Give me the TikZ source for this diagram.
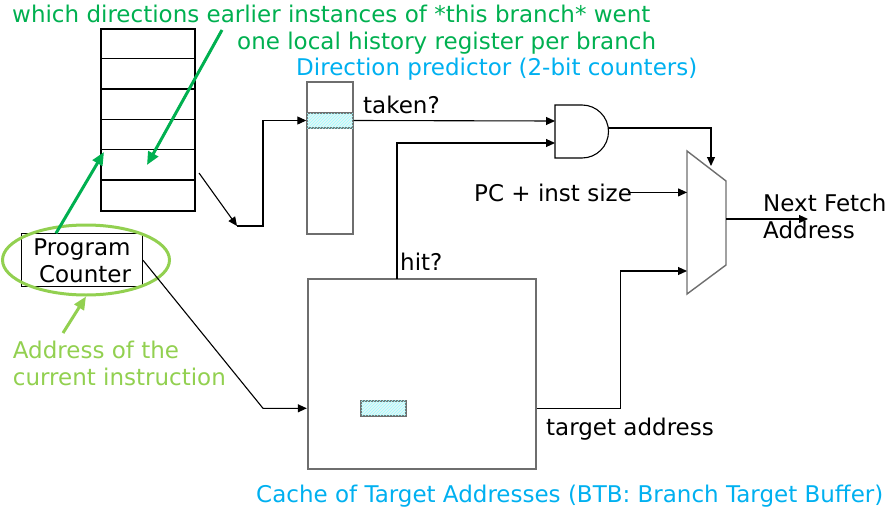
\documentclass[tikz,border=0pt]{standalone}
\usepackage{fontspec}
\setmainfont{DejaVu Sans}
\usetikzlibrary{arrows.meta, patterns, shapes.geometric}

\definecolor{darkgreen}{HTML}{00B050}
\definecolor{lightgreen}{HTML}{92D050}
\definecolor{skyblue}{HTML}{00B0F0}
\definecolor{boxgray}{HTML}{6E6E6E}
\definecolor{hatchcyan}{HTML}{E6F5F7}

\begin{document}
\begin{tikzpicture}[x = 1pt, y = -1pt,
	every node/.style = {font = \fontsize{23}{27}\selectfont, inner sep = 0pt},
	block/.style = {draw = boxgray, line width = 1.4pt},
	cell/.style = {block, fill = hatchcyan,
		postaction = {pattern = north east lines, pattern color = cyan!40}},
	wire/.style = {line width = 1.1pt, -{Triangle[length = 9pt, width = 8pt]}},
	note/.style = {line width = 3pt, -{Triangle[length = 13pt, width = 11pt]}}]
	
	\useasboundingbox (0, 0) rectangle (885, 511);
	
	% Local history table
	
	\node [draw, line width = 1.3pt, minimum width = 94pt, minimum height = 182pt] (hist) at (148, 120) {};
	\foreach \i in {1, ..., 5}
		\draw [line width = 1.3pt] ([yshift = -\i*30.33pt]hist.north west) -- ([yshift = -\i*30.33pt]hist.north east);
	
	% Direction predictor and BTB
	
	\node [block, minimum width = 46pt, minimum height = 152pt] (pred) at (330, 158) {};
	\node [cell, minimum width = 46pt, minimum height = 15pt] (predcell) at (330, 120.5) {};
	
	\node [block, line width = 1.8pt, minimum width = 228pt, minimum height = 190pt] (btb) at (421.7, 374) {};
	\node [cell, minimum width = 45pt, minimum height = 15pt] (btbcell) at (383.3, 408.3) {};
	
	% Program counter
	
	\node [draw, line width = 1.1pt, minimum width = 121pt, minimum height = 53pt, align = center] (pc) at (82, 260.3)
		{Program\\\hspace*{6pt}Counter};
	\node [draw = lightgreen, line width = 3pt, ellipse, minimum width = 167pt, minimum height = 70pt] (pcring) at (86, 260) {};
	
	% AND gate and mux
	
	\coordinate (and) at (555, 105);
	\draw [line width = 1.1pt] (and) -- ++(27, 0) arc (90 : -90 : 26.5pt) -- ++(-27, 0) -- cycle;
	\coordinate (andin1) at (555, 121);
	\coordinate (andin2) at (555, 143);
	\coordinate (andout) at (608, 128);
	
	\draw [block] (687, 151) coordinate (mux) -- (726, 181) -- (726, 265) -- (687, 294) -- cycle;
	\coordinate (muxsel) at (711, 166);
	\coordinate (muxin0) at (687, 195.5);
	\coordinate (muxin1) at (687, 271);
	\coordinate (muxout) at (726, 219);
	
	% Labels
	
	\node [anchor = base west] (taken) at (363, 113) {taken?};
	\node [anchor = base west] (hit) at (400, 270) {hit?};
	\node [anchor = base west] (pcinc) at (474, 201) {PC + inst size};
	\node [anchor = base west, align = left] (nextpc) at (763, 238) {Next Fetch\\Address};
	\node [anchor = base west] (target) at (546, 435) {target address};
	
	\node [anchor = base west, text = darkgreen] (why) at (12, 22.5) {which directions earlier instances of *this branch* went};
	\node [anchor = base west, text = darkgreen] (perbranch) at (237, 49) {one local history register per branch};
	\node [anchor = base west, text = skyblue] (predname) at (296, 75) {Direction predictor (2-bit counters)};
	\node [anchor = base west, text = skyblue] (btbname) at (256, 502) {Cache of Target Addresses (BTB: Branch Target Buffer)};
	\node [anchor = base west, align = left, text = lightgreen] (pcname) at (12.7, 385.7) {Address of the\\current instruction};
	
	% Wires
	
	\begin{scope}[wire]
	
		\coordinate (histout) at (199, 173);
		\coordinate (histin) at (237, 226);
		\draw (histout) -- (histin);
		\draw (histin) -- ++(26, 0) |- (predcell.west);
		
		\draw (predcell.east) -- (andin1);
		\coordinate (hitout) at (397, 279);
		\draw (hitout) |- (andin2);
		\draw (andout) -| (muxsel);
		
		\draw ([xshift = -4pt]pcinc.east) -- (pcinc.east -| muxin0);
		\draw (btb.east |- btbcell) -- ++(84, 0) |- (muxin1);
		\draw (muxout) -- ++(82, 0);
		
		\coordinate (pcbend) at (263, 408.3);
		\draw (pc.east) -- (pcbend) -- (btb.west |- btbcell);
		
	\end{scope}
	
	% Notes
	
	\draw [note, darkgreen] ([xshift = -26pt]pc.north) -- (104, 152);
	\draw [note, darkgreen] (222, 30) -- (147, 165);
	\draw [note, lightgreen] (63, 333) -- (pcring.south);

\end{tikzpicture}
\end{document}
